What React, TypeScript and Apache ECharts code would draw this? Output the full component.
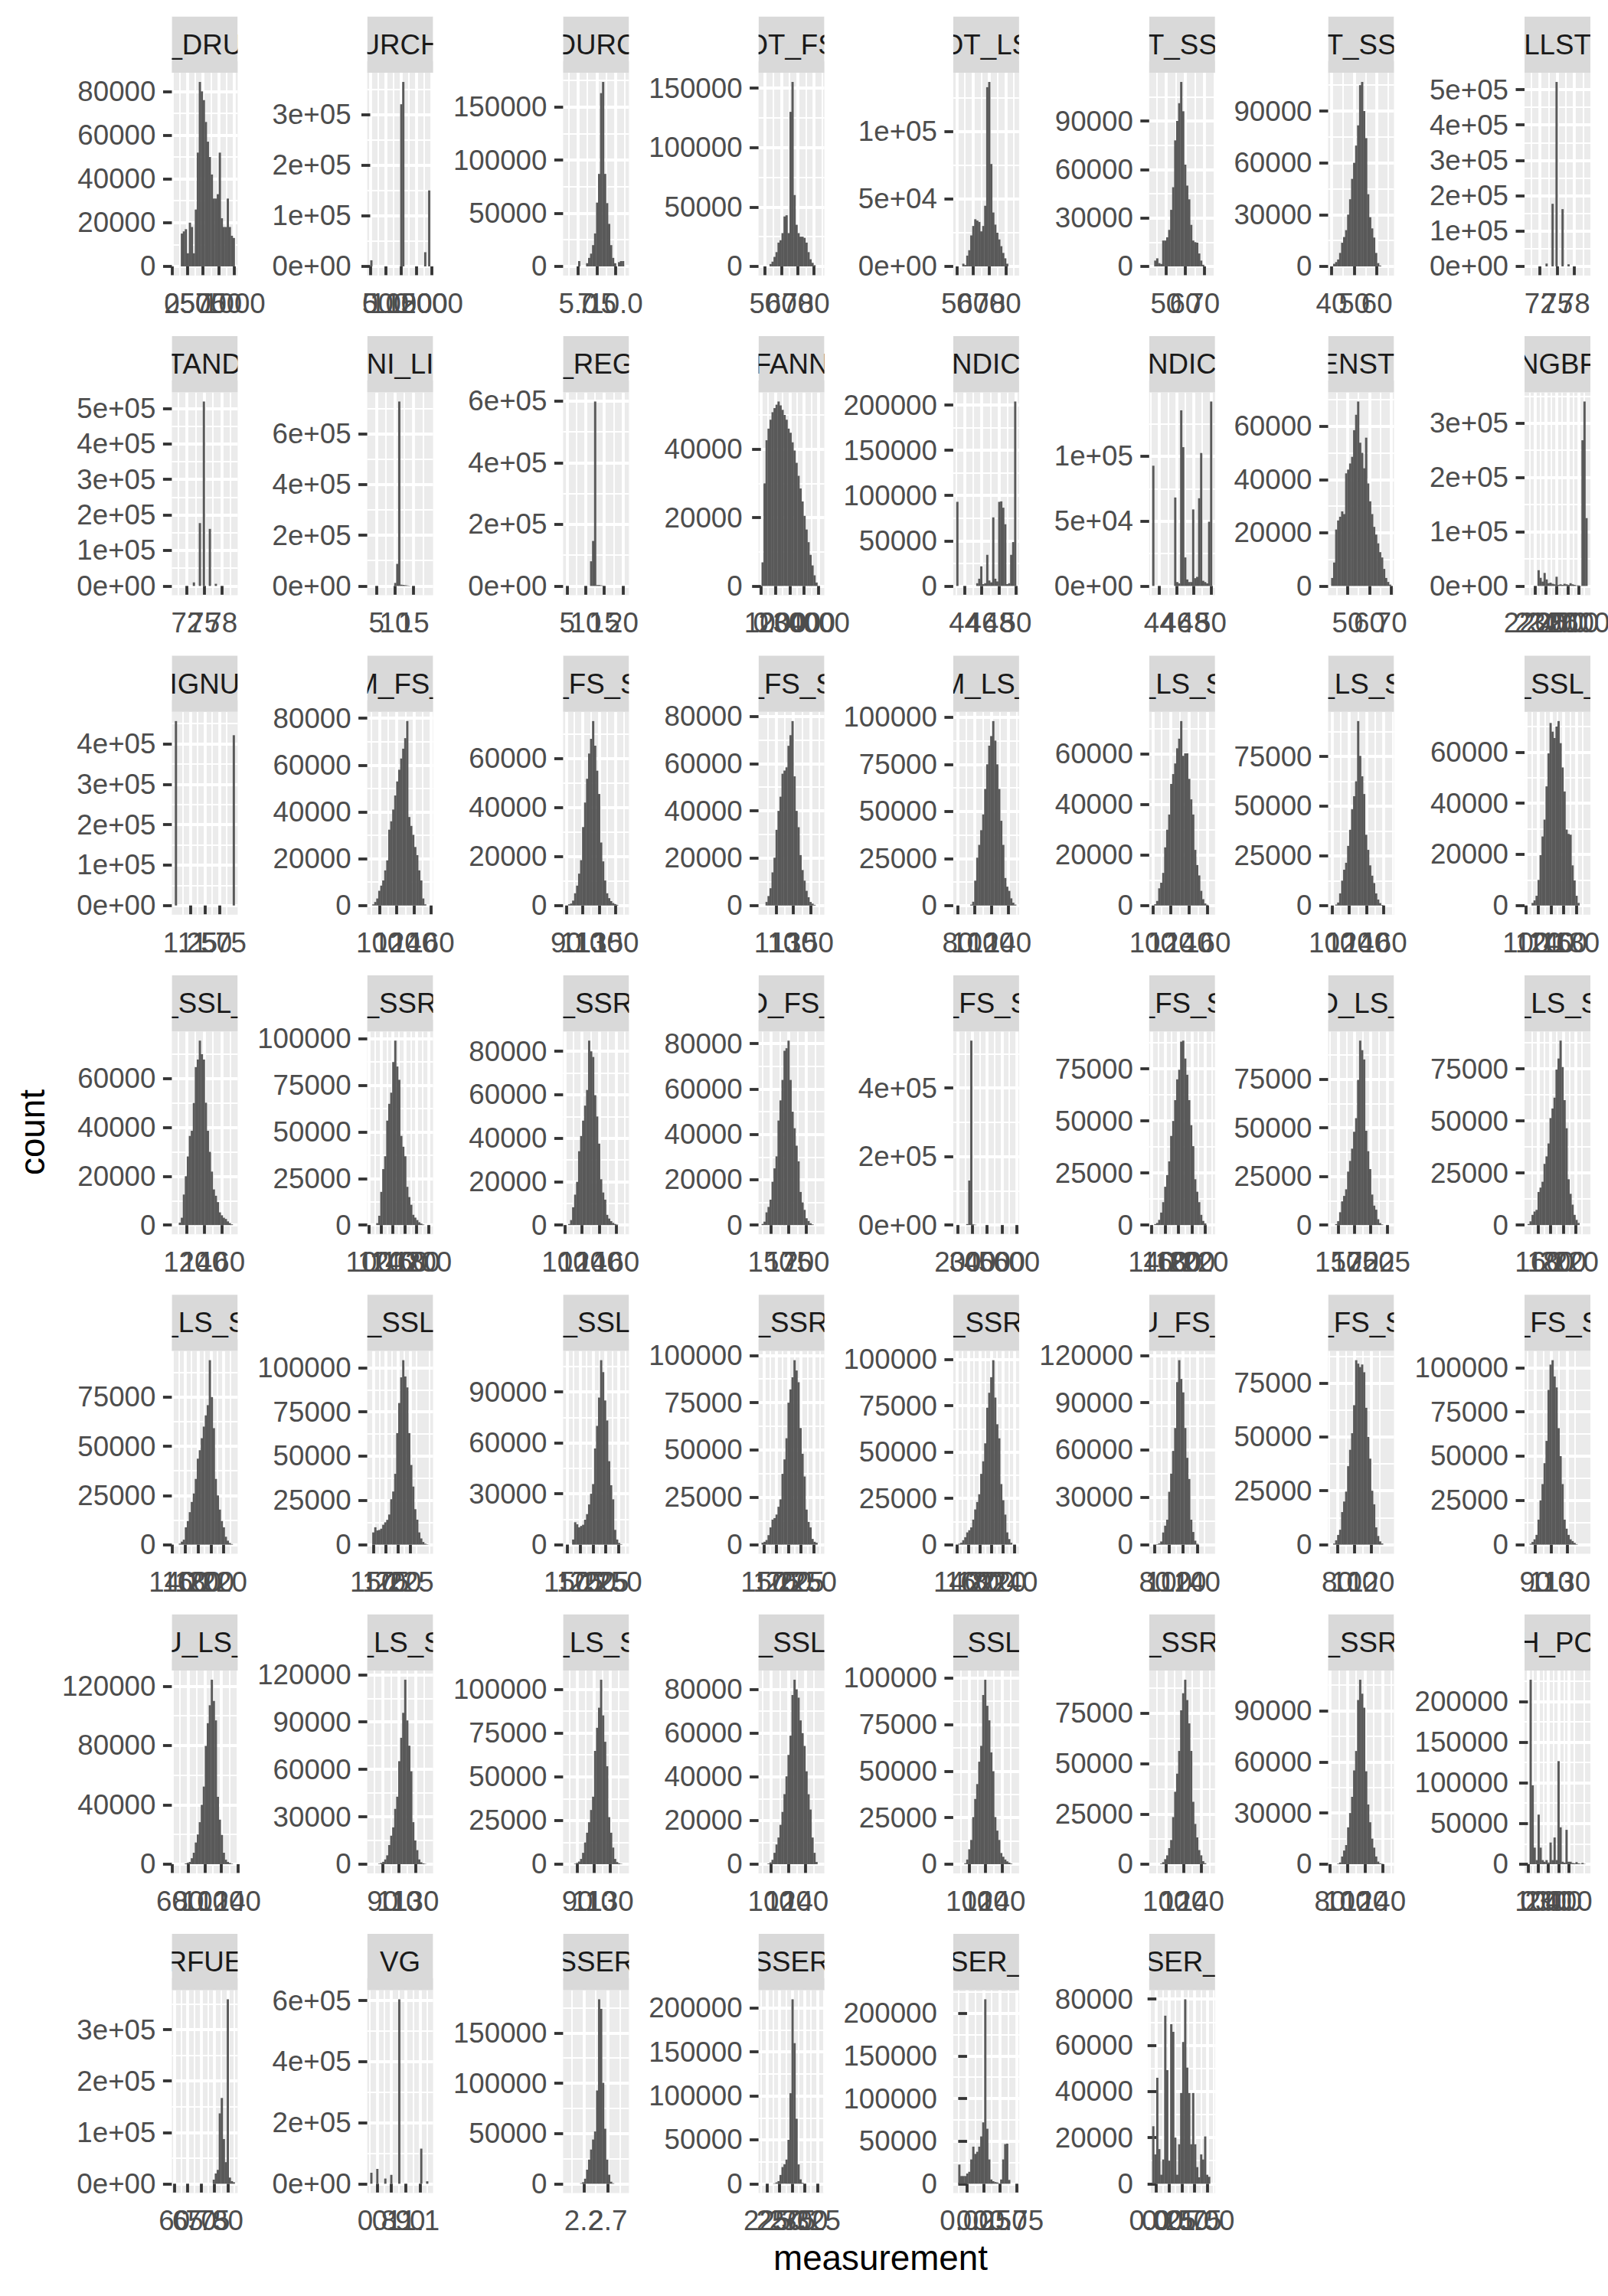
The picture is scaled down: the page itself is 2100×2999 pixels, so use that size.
import React, { useEffect, useRef } from "react";
import * as echarts from "echarts";

// ---------------- data ----------------
const stripLabels = [
  "_DRU", "URCH", "DURC", "OT_FS", "OT_LS", "T_SS", "T_SS", "LLST",
  "TAND", "NI_LI", "_REG", "FANN", "NDIC", "NDIC", "ENSTI", "NGBF",
  "IGNU", "M_FS_", "_FS_S", "_FS_S", "M_LS_", "_LS_S", "_LS_S", "_SSL_",
  "_SSL_", "_SSR", "_SSR", "D_FS_", "_FS_S", "_FS_S", "D_LS_", "_LS_S",
  "_LS_S", "_SSL", "_SSL", "_SSR", "_SSR", "U_FS_", "_FS_S", "_FS_S",
  "U_LS_", "_LS_S", "_LS_S", "_SSL", "_SSL", "_SSR", "_SSR", "H_PO",
  "RFUE", "VG", "SSER", "SSER", "SER_", "SER_",
];

// extent of the 30 histogram bins of each panel
const binLo = [
  47, 0, 3.41, 48, 49.75, 42.75, 39.8, 69.83,
  69.97, 3.32, 4.73, 43, 43.04, 43.16, 42.5, 2133,
  0.983, 89.2, 90, 92.5, 78.2, 99.5, 98.9, 102.6,
  106.5, 101.7, 101.2, 136.2, 189.5, 140.9, 139.1, 142.6,
  144, 143.7, 148, 145, 139.1, 76.5, 72.8, 80.4,
  63.6, 75, 76.25, 88.6, 84.4, 84.3, 81.3, -4,
  60.16, 0.753, 1.836, 214, -0.164, -0.082,
];
const binHi = [
  1007, 1940, 11.38, 84.4, 86.4, 74.05, 66.2, 80.25,
  80.2, 19.42, 20.83, 4193, 50.0, 50.13, 69.8, 2681,
  2.017, 158.8, 162.6, 162.9, 149.5, 165.1, 168.5, 197.5,
  174.9, 202.7, 171.6, 221.6, 597, 230.3, 231.1, 239.4,
  237, 264.7, 264.2, 266, 242.9, 161.3, 143.2, 155.4,
  136.4, 147.6, 148.9, 159, 157, 152.7, 149.7, 580,
  82.6, 1.169, 3.074, 333.2, 0.745, 1.092,
];

const xBreaks = [
  [0, 250, 500, 750, 1000], [0, 500, 1000, 1500, 2000], [5, 7.5, 10], [50, 60, 70, 80],
  [50, 60, 70, 80], [50, 60, 70], [40, 50, 60], [72, 75, 78],
  [72, 75, 78], [5, 10, 15], [5, 10, 15, 20], [0, 1000, 2000, 3000, 4000],
  [44, 46, 48, 50], [44, 46, 48, 50], [50, 60, 70], [2200, 2300, 2400, 2500, 2600],
  [1.25, 1.5, 1.75], [100, 120, 140, 160], [90, 110, 130, 150], [110, 130, 150],
  [80, 100, 120, 140], [100, 120, 140, 160], [100, 120, 140, 160], [100, 120, 140, 160, 180],
  [120, 140, 160], [100, 120, 140, 160, 180, 200], [100, 120, 140, 160], [150, 175, 200],
  [200, 300, 400, 500, 600], [140, 160, 180, 200, 220], [150, 175, 200, 225], [160, 180, 200, 220],
  [140, 160, 180, 200, 220], [150, 175, 200, 225], [150, 175, 200, 225, 250], [150, 175, 200, 225, 250],
  [140, 160, 180, 200, 220, 240], [80, 100, 120, 140], [80, 100, 120], [90, 110, 130],
  [60, 80, 100, 120, 140], [90, 110, 130], [90, 110, 130], [100, 120, 140],
  [100, 120, 140], [100, 120, 140], [80, 100, 120, 140], [0, 100, 200, 300, 400],
  [60, 65, 70, 75, 80], [0.8, 0.9, 1.0, 1.1], [2.2, 2.7], [225, 250, 275, 300, 325],
  [0, 0.25, 0.5, 0.75], [0, 0.25, 0.5, 0.75, 1],
];
const xDecimals = [
  0, 0, 1, 0, 0, 0, 0, 0,
  0, 0, 0, 0, 0, 0, 0, 0,
  2, 0, 0, 0, 0, 0, 0, 0,
  0, 0, 0, 0, 0, 0, 0, 0,
  0, 0, 0, 0, 0, 0, 0, 0,
  0, 0, 0, 0, 0, 0, 0, 0,
  0, 1, 1, 0, 2, 2,
];

const yBreaks = [
  [0, 20000, 40000, 60000, 80000], [0, 1e5, 2e5, 3e5], [0, 50000, 100000, 150000], [0, 50000, 100000, 150000],
  [0, 5e4, 1e5], [0, 30000, 60000, 90000], [0, 30000, 60000, 90000], [0, 1e5, 2e5, 3e5, 4e5, 5e5],
  [0, 1e5, 2e5, 3e5, 4e5, 5e5], [0, 2e5, 4e5, 6e5], [0, 2e5, 4e5, 6e5], [0, 20000, 40000],
  [0, 50000, 100000, 150000, 200000], [0, 5e4, 1e5], [0, 20000, 40000, 60000], [0, 1e5, 2e5, 3e5],
  [0, 1e5, 2e5, 3e5, 4e5], [0, 20000, 40000, 60000, 80000], [0, 20000, 40000, 60000], [0, 20000, 40000, 60000, 80000],
  [0, 25000, 50000, 75000, 100000], [0, 20000, 40000, 60000], [0, 25000, 50000, 75000], [0, 20000, 40000, 60000],
  [0, 20000, 40000, 60000], [0, 25000, 50000, 75000, 100000], [0, 20000, 40000, 60000, 80000], [0, 20000, 40000, 60000, 80000],
  [0, 2e5, 4e5], [0, 25000, 50000, 75000], [0, 25000, 50000, 75000], [0, 25000, 50000, 75000],
  [0, 25000, 50000, 75000], [0, 25000, 50000, 75000, 100000], [0, 30000, 60000, 90000], [0, 25000, 50000, 75000, 100000],
  [0, 25000, 50000, 75000, 100000], [0, 30000, 60000, 90000, 120000], [0, 25000, 50000, 75000], [0, 25000, 50000, 75000, 100000],
  [0, 40000, 80000, 120000], [0, 30000, 60000, 90000, 120000], [0, 25000, 50000, 75000, 100000], [0, 20000, 40000, 60000, 80000],
  [0, 25000, 50000, 75000, 100000], [0, 25000, 50000, 75000], [0, 30000, 60000, 90000], [0, 50000, 100000, 150000, 200000],
  [0, 1e5, 2e5, 3e5], [0, 2e5, 4e5, 6e5], [0, 50000, 100000, 150000], [0, 50000, 100000, 150000, 200000],
  [0, 50000, 100000, 150000, 200000], [0, 20000, 40000, 60000, 80000],
];
const ySci = [
  false, true, false, false, true, false, false, true,
  true, true, true, false, false, true, false, true,
  true, false, false, false, false, false, false, false,
  false, false, false, false, true, false, false, false,
  false, false, false, false, false, false, false, false,
  false, false, false, false, false, false, false, false,
  true, true, false, false, false, false,
];

// bin counts (30 bins per panel)
const c01 = [0, 0, 0, 15000, 16000, 17000, 6000, 20000, 18000, 6000, 26000, 52000, 84300, 80000, 76000, 66000, 57000, 50000, 42000, 31000, 31000, 33000, 52000, 22000, 18000, 18000, 31000, 18000, 14000, 13000];
const c02 = [12000, 0, 0, 0, 0, 0, 0, 0, 0, 0, 0, 0, 0, 0, 0, 320000, 364000, 0, 0, 0, 0, 0, 0, 0, 0, 0, 0, 28000, 0, 150000];
const c03 = [0, 0, 0, 0, 0, 0, 5000, 0, 0, 0, 3000, 8000, 12000, 20000, 31000, 60000, 87000, 163000, 173500, 87000, 59500, 40000, 20000, 8000, 3000, 0, 4000, 5000, 5000, 0];
const c04 = [0, 0, 0, 0, 2000, 4000, 8000, 12000, 20000, 22000, 28000, 42000, 43000, 28000, 130000, 155150, 60000, 35000, 28000, 25000, 25000, 24000, 20000, 12000, 6000, 3000, 1000, 0, 0, 0];
const c05 = [0, 0, 0, 2000, 1000, 8000, 12000, 23000, 30000, 35000, 34000, 33000, 26000, 30000, 45000, 133000, 136900, 76000, 40000, 31000, 25000, 20000, 15000, 10000, 6000, 2000, 0, 0, 0, 0];
const c06 = [0, 3600, 5000, 2000, 1500, 16000, 16000, 18000, 22600, 35000, 49000, 78000, 90000, 101000, 114150, 96000, 63000, 50000, 41500, 25700, 16000, 15000, 14700, 8000, 3600, 1000, 0, 0, 0, 0];
const c07 = [0, 1500, 2500, 4000, 7800, 13700, 17000, 21000, 30000, 38900, 50700, 60000, 70000, 81700, 105000, 106850, 90000, 74300, 41800, 28500, 22000, 16700, 7800, 1900, 500, 0, 0, 0, 0, 0];
const c08 = [0, 0, 0, 0, 0, 0, 0, 0, 0, 8000, 0, 0, 177000, 0, 521600, 0, 0, 162000, 0, 0, 6000, 0, 0, 0, 0, 0, 0, 0, 0, 0];
const c09 = [0, 0, 0, 0, 0, 0, 0, 0, 0, 10000, 0, 0, 177000, 0, 519400, 0, 0, 160700, 0, 0, 6000, 0, 0, 0, 0, 0, 0, 0, 0, 0];
const c10 = [0, 0, 0, 0, 0, 0, 0, 0, 0, 0, 0, 0, 12000, 87000, 727600, 5000, 4000, 3000, 2000, 1000, 0, 0, 0, 0, 0, 0, 0, 0, 0, 0];
const c11 = [0, 0, 0, 0, 0, 0, 0, 0, 0, 0, 0, 0, 80000, 146000, 598300, 3000, 3000, 2000, 1000, 0, 0, 0, 0, 0, 0, 0, 0, 0, 0, 0];
const c12 = [6900, 30000, 42600, 46000, 48600, 50800, 52000, 53000, 53930, 52800, 51500, 50000, 48600, 46000, 44800, 42000, 39600, 36000, 32200, 28500, 24700, 20500, 16500, 12800, 9100, 6000, 3100, 1000, 0, 0];
const c13 = [93000, 0, 0, 0, 0, 0, 0, 0, 0, 0, 3000, 8000, 21700, 2000, 3000, 34400, 6000, 4000, 75800, 8000, 5000, 93000, 93500, 86500, 68200, 2000, 3000, 34400, 48500, 203900];
const c14 = [92700, 0, 0, 0, 0, 0, 0, 0, 0, 0, 0, 68200, 3000, 2000, 135400, 107000, 22000, 5000, 3000, 3000, 59000, 6000, 7000, 67600, 102500, 4000, 3000, 2000, 49500, 142200];
const c15 = [3000, 8800, 21200, 24600, 26000, 28000, 27000, 42300, 43700, 46000, 48500, 58500, 64300, 69280, 53800, 50000, 44200, 55700, 38500, 31800, 27000, 22200, 19300, 16000, 12700, 10700, 6400, 3000, 1500, 500];
const c16 = [0, 0, 0, 0, 0, 29000, 15000, 8000, 24000, 12000, 5000, 6000, 4000, 3000, 17000, 2000, 3000, 2000, 4000, 3000, 2000, 5000, 3000, 2000, 1000, 1000, 500, 268500, 339900, 125000];
const c17 = [456000, 0, 0, 0, 0, 0, 0, 0, 0, 0, 0, 0, 0, 0, 0, 0, 0, 0, 0, 0, 0, 0, 0, 0, 0, 0, 0, 0, 0, 421000];
const c18 = [0, 500, 1500, 3000, 6300, 8500, 10700, 15000, 19300, 32400, 36000, 41000, 47000, 53000, 58000, 62800, 67000, 71500, 78800, 37800, 34000, 30200, 25000, 21500, 15000, 10700, 3000, 500, 0, 0];
const c19 = [0, 500, 800, 2000, 5000, 8100, 13000, 18500, 32000, 42000, 51700, 62000, 68000, 75250, 65200, 55000, 45500, 25700, 18000, 10200, 5000, 3000, 1800, 1000, 600, 300, 0, 0, 0, 0];
const c20 = [0, 0, 1500, 4000, 7300, 14000, 20200, 32000, 40000, 46000, 55700, 57000, 58400, 67500, 72000, 77960, 54600, 40000, 33100, 21300, 15000, 10500, 6200, 3500, 1500, 800, 300, 0, 0, 0];
const c21 = [0, 0, 0, 0, 0, 0, 0, 500, 2000, 13200, 25400, 32200, 40000, 48400, 61900, 75000, 84900, 90000, 97970, 87600, 75000, 61900, 45000, 32200, 14600, 10000, 7800, 3800, 1500, 500];
const c22 = [0, 500, 1800, 6800, 9000, 12900, 23000, 30000, 36000, 48100, 52000, 56200, 62200, 66000, 72970, 59200, 60200, 60200, 50100, 42000, 36000, 22000, 16000, 11900, 5800, 2500, 800, 300, 0, 0];
const c23 = [0, 0, 500, 1500, 6100, 12500, 18000, 21500, 30000, 38100, 48400, 55000, 62500, 92800, 75300, 65000, 56100, 35600, 28000, 20200, 15000, 11300, 6100, 3000, 1200, 300, 0, 0, 0, 0];
const c24 = [0, 0, 1000, 2000, 3800, 10000, 19700, 27000, 33600, 46600, 59500, 71400, 68000, 65500, 70000, 72140, 63500, 54000, 44600, 29700, 28000, 27700, 15700, 9800, 3800, 1000, 0, 0, 0, 0];
const c25 = [0, 0, 1000, 3000, 12500, 20000, 28100, 36500, 38600, 50000, 64700, 67800, 75540, 70000, 67800, 50100, 38600, 30000, 21900, 14600, 12000, 9400, 5200, 4000, 3000, 2500, 1500, 800, 300, 0];
const c26 = [0, 0, 0, 1000, 5000, 17800, 30000, 36900, 56000, 65000, 71000, 87400, 98900, 85000, 77900, 47800, 42000, 36900, 20500, 15000, 10900, 5500, 4000, 2700, 1500, 800, 300, 0, 0, 0];
const c27 = [0, 500, 2300, 8200, 14000, 19900, 34000, 41000, 48100, 55000, 62200, 84930, 80000, 77400, 59800, 50000, 37500, 21100, 15000, 11700, 4700, 3000, 1800, 1000, 500, 200, 0, 0, 0, 0];
const c28 = [500, 1500, 5600, 8000, 11200, 19100, 25000, 30300, 46100, 55000, 64000, 76900, 78000, 81350, 64000, 50000, 42700, 35000, 28100, 14600, 10000, 6700, 3000, 1800, 800, 300, 0, 0, 0, 0];
const c29 = [0, 0, 0, 0, 0, 3000, 130000, 538300, 2000, 1000, 0, 0, 0, 0, 0, 0, 0, 0, 0, 0, 0, 0, 0, 0, 0, 0, 0, 0, 0, 0];
const c30 = [0, 500, 1000, 2500, 6000, 11000, 18400, 24000, 30600, 42800, 50000, 60000, 70000, 74600, 88100, 88600, 80000, 72200, 60000, 48000, 37900, 22000, 16000, 11000, 4900, 2000, 800, 0, 0, 0];
const c31 = [0, 0, 500, 2000, 6600, 12200, 15000, 18400, 27500, 33000, 39300, 48000, 55000, 74700, 94900, 90000, 85200, 48500, 38000, 28800, 15700, 10000, 7900, 3000, 1000, 300, 0, 0, 0, 0];
const c32 = [500, 1800, 4900, 6500, 7300, 15900, 18000, 20800, 29400, 33000, 39200, 51400, 56000, 61200, 74700, 80000, 88600, 75900, 60000, 46500, 22000, 15000, 9800, 4900, 2500, 1000, 0, 0, 0, 0];
const c33 = [0, 0, 500, 1500, 2500, 8800, 12000, 16500, 21700, 26000, 33400, 43700, 48000, 54100, 60000, 65700, 70900, 93770, 75000, 59200, 33400, 25000, 17800, 12000, 8800, 4000, 2000, 800, 300, 0];
const c34 = [0, 6900, 9800, 8000, 8300, 9000, 11200, 12600, 14000, 17000, 25600, 30000, 40000, 63000, 80000, 94500, 104200, 95000, 88800, 63000, 45000, 32800, 20000, 14100, 6900, 3500, 1500, 500, 200, 0];
const c35 = [0, 0, 0, 3000, 13200, 12000, 10200, 11000, 11700, 14700, 18000, 23700, 30000, 35700, 56700, 70000, 86700, 108750, 101700, 85000, 73200, 49200, 35000, 26700, 8700, 3000, 1000, 300, 0, 0];
const c36 = [1000, 1500, 2400, 5000, 9100, 13200, 14000, 15900, 20000, 23900, 37400, 45000, 56200, 75000, 82000, 88400, 97450, 92000, 85800, 61600, 48000, 36000, 18500, 12000, 9100, 3000, 1500, 1000, 0, 0];
const c37 = [0, 500, 1000, 2400, 4000, 6600, 7800, 9300, 13500, 19000, 23000, 27200, 38200, 45000, 54700, 73900, 82000, 90400, 99600, 79400, 65000, 57400, 32700, 24000, 16200, 6600, 3000, 1000, 0, 0];
const c38 = [0, 0, 300, 800, 2000, 7700, 12000, 15800, 33500, 45000, 59400, 73900, 103000, 116900, 105000, 96500, 73900, 55000, 41600, 15800, 8000, 2500, 500, 0, 0, 0, 0, 0, 0, 0];
const c39 = [0, 500, 2000, 4500, 6900, 15100, 20000, 24600, 36400, 44000, 51700, 64700, 85600, 84000, 82400, 83600, 80000, 63500, 50000, 39900, 25000, 18700, 8000, 4000, 1500, 500, 0, 0, 0, 0];
const c40 = [0, 500, 1500, 3000, 5500, 14100, 25000, 34200, 46000, 58600, 87400, 101700, 104200, 95000, 88800, 65800, 50000, 34200, 14100, 9000, 5500, 3000, 2000, 1000, 300, 0, 0, 0, 0, 0];
const c41 = [0, 0, 0, 0, 0, 500, 1000, 1500, 4000, 7700, 14600, 20000, 28300, 40000, 52300, 79700, 95000, 107100, 124300, 110000, 96900, 45400, 30000, 19700, 7700, 3000, 1500, 800, 300, 0];
const c42 = [0, 0, 0, 0, 300, 800, 1500, 3000, 5600, 12100, 18000, 23300, 35000, 42700, 65200, 80000, 95800, 116750, 91000, 75000, 58800, 26600, 15000, 8900, 3000, 1200, 500, 200, 0, 0];
const c43 = [0, 0, 0, 0, 300, 800, 1500, 3000, 6500, 12400, 18000, 24000, 31000, 38600, 64800, 78000, 89500, 105500, 85100, 70000, 56000, 26900, 18000, 9500, 3000, 1200, 500, 200, 0, 0];
const c44 = [0, 0, 0, 300, 800, 2000, 5200, 9000, 12200, 18000, 23900, 32000, 40200, 50000, 58800, 77400, 84400, 80000, 76200, 65800, 60000, 54100, 42500, 32000, 25000, 12200, 5200, 1000, 0, 0];
const c45 = [0, 0, 0, 0, 500, 2500, 8000, 13000, 25300, 35000, 43000, 55000, 63500, 90800, 99000, 85000, 77200, 60000, 49900, 25300, 18000, 13000, 6000, 4000, 2500, 1500, 800, 300, 0, 0];
const c46 = [0, 0, 0, 0, 300, 1000, 2500, 4400, 8000, 12000, 23400, 36000, 45000, 56300, 76500, 85000, 91700, 81600, 70000, 56300, 31000, 20000, 13300, 7000, 4400, 1500, 500, 0, 0, 0];
const c47 = [0, 0, 0, 300, 1000, 4500, 8000, 11200, 21600, 30000, 39500, 55000, 66400, 96300, 108200, 100000, 91800, 54500, 35000, 24600, 15000, 9700, 4500, 1500, 500, 200, 0, 0, 0, 0];
const c48 = [0, 226600, 96900, 20300, 5000, 60900, 20300, 5000, 3000, 5000, 2000, 26600, 5000, 32800, 5000, 126600, 45300, 3000, 2000, 42200, 3000, 3000, 1500, 1000, 2500, 1000, 500, 1500, 300, 0];
const c49 = [0, 0, 0, 0, 0, 0, 0, 0, 0, 0, 0, 0, 0, 0, 0, 0, 0, 0, 0, 8000, 20000, 27000, 137000, 167000, 87000, 42000, 359200, 12000, 5000, 3000];
const c50 = [36000, 0, 0, 48500, 0, 0, 0, 17000, 0, 0, 29000, 0, 0, 0, 604200, 0, 0, 0, 0, 0, 0, 0, 0, 0, 0, 115000, 0, 0, 8000, 0];
const c51 = [0, 0, 0, 0, 0, 0, 0, 500, 1500, 5000, 14000, 24000, 34000, 44000, 52000, 92800, 183500, 174000, 100400, 54700, 24000, 9000, 2000, 500, 0, 0, 0, 0, 0, 0];
const c52 = [0, 0, 0, 0, 0, 0, 500, 1500, 3000, 10000, 19000, 22000, 27500, 50000, 103000, 209900, 160000, 74000, 22000, 5000, 1000, 300, 0, 0, 0, 0, 0, 0, 0, 0];
const c53 = [0, 22500, 9000, 9000, 9000, 12000, 14000, 28500, 43500, 35000, 37500, 43500, 55500, 72000, 216400, 64500, 28500, 5000, 3000, 2000, 1500, 500, 5000, 28500, 46500, 47000, 4500, 0, 0, 0];
const c54 = [24900, 12700, 45900, 15000, 3900, 10500, 72800, 49200, 10000, 69100, 65800, 20000, 3900, 17100, 39300, 61400, 79900, 50300, 39300, 17100, 39300, 17100, 7200, 2800, 12700, 10500, 20500, 3900, 3000, 0];

const binCounts = [
  c01, c02, c03, c04, c05, c06, c07, c08, c09, c10, c11, c12, c13, c14, c15, c16, c17, c18,
  c19, c20, c21, c22, c23, c24, c25, c26, c27, c28, c29, c30, c31, c32, c33, c34, c35, c36,
  c37, c38, c39, c40, c41, c42, c43, c44, c45, c46, c47, c48, c49, c50, c51, c52, c53, c54,
];

const xTitle = "measurement";
const yTitle = "count";

// ---------------- layout / style ----------------
const W = 2100;
const H = 2999;
const FONT = '"Liberation Sans", Arial, Helvetica, sans-serif';
const COL_LEFT = [224.4, 479.6, 735.4, 990.6, 1244.9, 1500.8, 1734.5, 1991];
const PANEL_W = 86;
const ROW_TOP0 = 21.7;
const ROW_STEP = 417.4;
const STRIP_H = 73.3;
const PANEL_H = 265;
const AXIS_FS = 36.7;
const TITLE_FS = 45.8;
const MAJOR_W = 3.8;
const MINOR_W = 1.9;
const TICK_W = 3.8;
const TICK_LEN = 11.5;
const NCOL = 8;

function fmtSci(v: number): string {
  if (v === 0) return "0e+00";
  const e = Math.floor(Math.log10(Math.abs(v)) + 1e-9);
  const m = Math.round(v / Math.pow(10, e));
  return `${m}e${e >= 0 ? "+" : "-"}${String(Math.abs(e)).padStart(2, "0")}`;
}

function minorValues(breaks: number[], min: number, max: number): number[] {
  if (breaks.length < 2) return [];
  const step = breaks[1] - breaks[0];
  const out: number[] = [];
  for (let j = -3; j < breaks.length + 3; j++) {
    const v = breaks[0] + (j + 0.5) * step;
    if (v > min && v < max) out.push(Number(v.toFixed(10)));
  }
  return out;
}

function buildOption() {
  const grid: any[] = [];
  const xAxis: any[] = [];
  const yAxis: any[] = [];
  const series: any[] = [];
  const elements: any[] = [];
  const n = stripLabels.length;
  const nRows = Math.ceil(n / NCOL);

  for (let k = 0; k < n; k++) {
    const r = Math.floor(k / NCOL);
    const c = k % NCOL;
    const left = COL_LEFT[c];
    const stripTop = ROW_TOP0 + r * ROW_STEP;
    const top = stripTop + STRIP_H;

    grid.push({
      left,
      top,
      width: PANEL_W,
      height: PANEL_H,
      show: true,
      backgroundColor: "#EBEBEB",
      borderWidth: 0,
      borderColor: "transparent",
      containLabel: false,
      outerBoundsMode: "none",
    });

    const lo = binLo[k];
    const hi = binHi[k];
    const span = hi - lo;
    const xmin = lo - 0.05 * span;
    const xmax = hi + 0.05 * span;
    const counts = binCounts[k];
    const cmax = Math.max(...counts);
    const ymin = -0.05 * cmax;
    const ymax = 1.05 * cmax;
    const xb = xBreaks[k].filter((v) => v >= xmin && v <= xmax);
    const yb = yBreaks[k].filter((v) => v >= ymin && v <= ymax);
    const dec = xDecimals[k];
    const sci = ySci[k];

    // major x axis: ticks + major grid (labels drawn by one axis per break below,
    // so that overlapping labels are all kept, as in the original)
    const mainX = xAxis.length;
    xAxis.push({
      type: "value",
      gridIndex: k,
      min: xmin,
      max: xmax,
      position: "bottom",
      axisLine: { show: false },
      axisTick: {
        show: true,
        length: TICK_LEN,
        customValues: xb,
        lineStyle: { color: "#333333", width: TICK_W },
      },
      axisLabel: { show: false, customValues: xb },
      splitLine: { show: true, lineStyle: { color: "#FFFFFF", width: MAJOR_W } },
      minorTick: { show: false },
      minorSplitLine: { show: false },
    });
    // minor x grid
    const xm = minorValues(xBreaks[k], xmin, xmax);
    xAxis.push({
      type: "value",
      gridIndex: k,
      min: xmin,
      max: xmax,
      position: "top",
      axisLine: { show: false },
      axisTick: { show: false, customValues: xm },
      axisLabel: { show: false, customValues: xm },
      splitLine: { show: true, lineStyle: { color: "#FFFFFF", width: MINOR_W } },
    });
    // one label per axis
    for (const v of xb) {
      xAxis.push({
        type: "value",
        gridIndex: k,
        min: xmin,
        max: xmax,
        position: "bottom",
        axisLine: { show: false },
        axisTick: { show: false, customValues: [v] },
        axisLabel: {
          show: true,
          customValues: [v],
          hideOverlap: false,
          showMinLabel: true,
          showMaxLabel: true,
          formatter: (val: number) => Number(val).toFixed(dec),
          color: "#4D4D4D",
          fontSize: AXIS_FS,
          fontFamily: FONT,
          margin: 18,
        },
        splitLine: { show: false },
        minorTick: { show: false },
        minorSplitLine: { show: false },
      });
    }

    const mainY = yAxis.length;
    yAxis.push({
      type: "value",
      gridIndex: k,
      min: ymin,
      max: ymax,
      position: "left",
      axisLine: { show: false },
      axisTick: {
        show: true,
        length: TICK_LEN,
        customValues: yb,
        lineStyle: { color: "#333333", width: TICK_W },
      },
      axisLabel: {
        show: true,
        customValues: yb,
        hideOverlap: false,
        showMinLabel: true,
        showMaxLabel: true,
        formatter: (v: number) => (sci ? fmtSci(Number(v)) : String(Math.round(Number(v)))),
        color: "#4D4D4D",
        fontSize: AXIS_FS,
        fontFamily: FONT,
        margin: 21,
      },
      splitLine: { show: true, lineStyle: { color: "#FFFFFF", width: MAJOR_W } },
      minorTick: { show: false },
      minorSplitLine: { show: false },
    });
    const ym = minorValues(yBreaks[k], ymin, ymax);
    yAxis.push({
      type: "value",
      gridIndex: k,
      min: ymin,
      max: ymax,
      position: "right",
      axisLine: { show: false },
      axisTick: { show: false, customValues: ym },
      axisLabel: { show: false, customValues: ym },
      splitLine: { show: true, lineStyle: { color: "#FFFFFF", width: MINOR_W } },
    });

    const bw = span / counts.length;
    const data = counts
      .map((v, i) => [lo + i * bw, lo + (i + 1) * bw, v])
      .filter((d) => d[2] > 0);

    series.push({
      type: "custom",
      xAxisIndex: mainX,
      yAxisIndex: mainY,
      silent: true,
      encode: { x: [0, 1], y: 2 },
      data,
      renderItem: (params: any, api: any) => {
        const a = api.coord([api.value(0), 0]);
        const b = api.coord([api.value(1), api.value(2)]);
        return {
          type: "rect",
          shape: { x: a[0], y: b[1], width: b[0] - a[0] + 0.35, height: a[1] - b[1] },
          style: { fill: "#595959" },
        };
      },
    });

    // strip
    elements.push({
      type: "rect",
      z: 50,
      silent: true,
      shape: { x: left, y: stripTop, width: PANEL_W, height: STRIP_H },
      style: { fill: "#D9D9D9" },
    });
    elements.push({
      type: "text",
      z: 60,
      silent: true,
      x: left + PANEL_W / 2,
      y: stripTop + STRIP_H / 2,
      style: {
        text: stripLabels[k],
        fontSize: AXIS_FS,
        fontFamily: FONT,
        fill: "#1A1A1A",
        align: "center",
        verticalAlign: "middle",
        textAlign: "center",
        textVerticalAlign: "middle",
      },
    });
  }

  // white masks clip the strip labels to their strips
  for (let r = 0; r < nRows; r++) {
    const stripTop = ROW_TOP0 + r * ROW_STEP;
    const cols = Math.min(NCOL, n - r * NCOL);
    let x0 = 0;
    for (let c = 0; c <= cols; c++) {
      const x1 = c < cols ? COL_LEFT[c] : W;
      if (x1 > x0) {
        elements.push({
          type: "rect",
          z: 100,
          silent: true,
          shape: { x: x0, y: stripTop, width: x1 - x0, height: 58 },
          style: { fill: "#FFFFFF" },
        });
      }
      if (c < cols) x0 = COL_LEFT[c] + PANEL_W;
    }
  }

  elements.push({
    type: "text",
    z: 60,
    silent: true,
    x: 42,
    y: 1479,
    rotation: Math.PI / 2,
    style: {
      text: yTitle,
      fontSize: TITLE_FS,
      fontFamily: FONT,
      fill: "#000000",
      align: "center",
      verticalAlign: "middle",
      textAlign: "center",
      textVerticalAlign: "middle",
    },
  });
  elements.push({
    type: "text",
    z: 60,
    silent: true,
    x: 1150,
    y: 2949,
    style: {
      text: xTitle,
      fontSize: TITLE_FS,
      fontFamily: FONT,
      fill: "#000000",
      align: "center",
      verticalAlign: "middle",
      textAlign: "center",
      textVerticalAlign: "middle",
    },
  });

  return {
    animation: false,
    backgroundColor: "#FFFFFF",
    textStyle: { fontFamily: FONT },
    grid,
    xAxis,
    yAxis,
    series,
    graphic: { elements },
  };
}

export default function App() {
  const ref = useRef<HTMLDivElement>(null);
  useEffect(() => {
    document.body.style.margin = "0";
    const el = ref.current;
    if (!el) return;
    const chart = echarts.init(el, null, { renderer: "svg", width: W, height: H });
    chart.setOption(buildOption() as any);
    return () => {
      chart.dispose();
    };
  }, []);
  return <div ref={ref} style={{ width: W, height: H, background: "#FFFFFF" }} />;
}
